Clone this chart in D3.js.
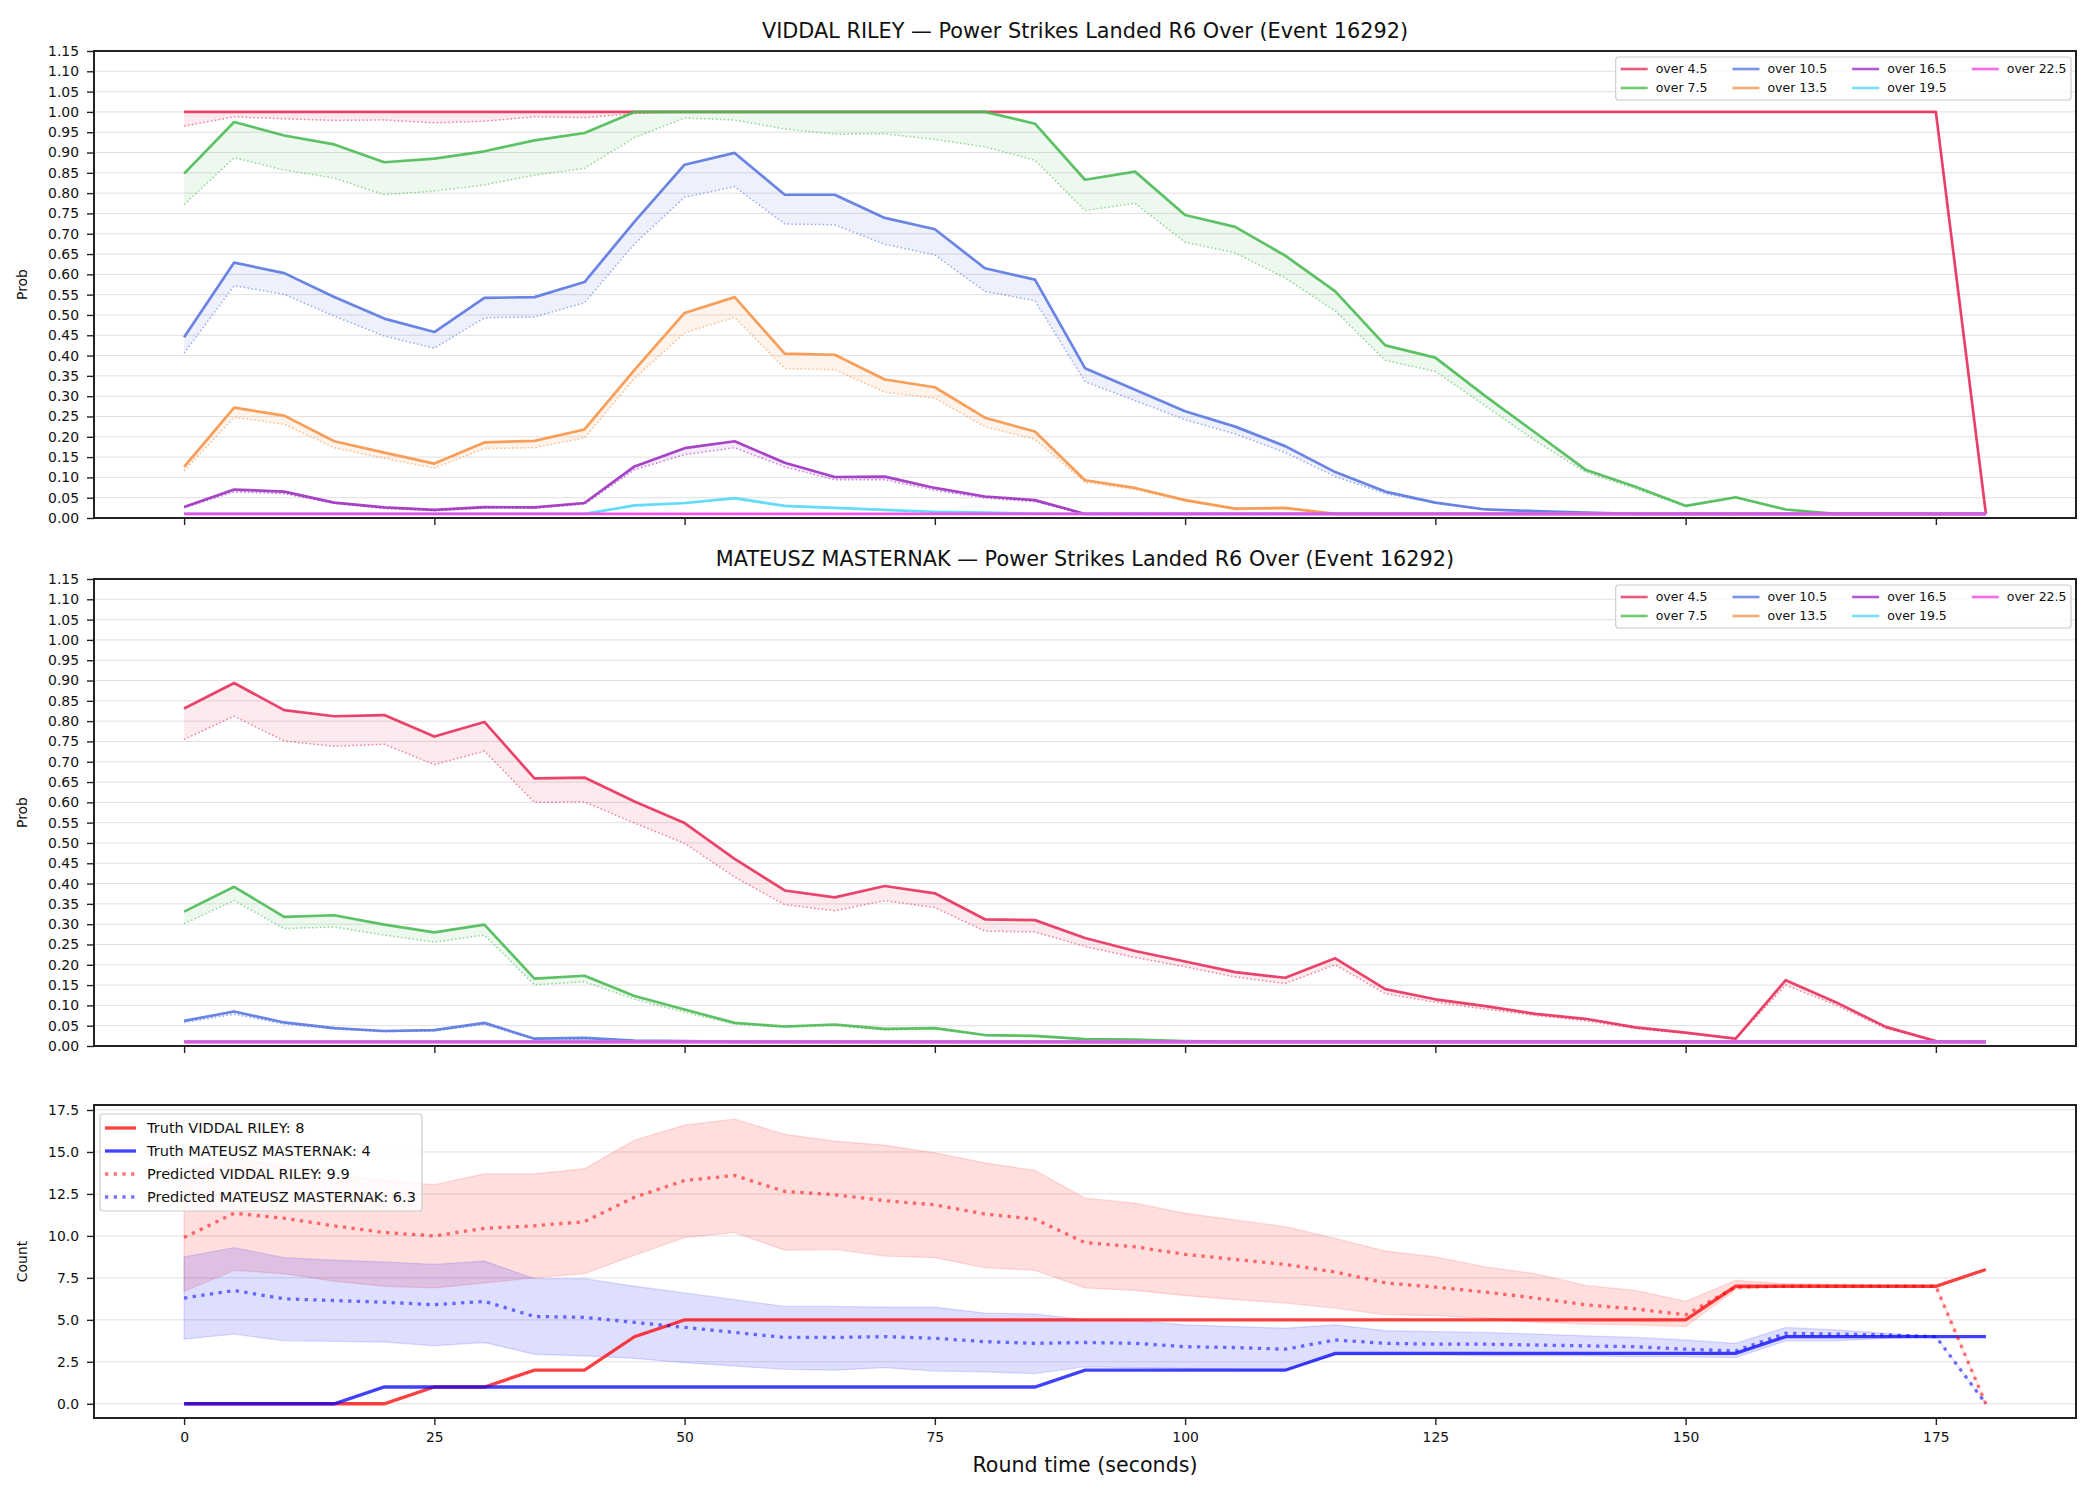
<!DOCTYPE html>
<html>
<head>
<meta charset="utf-8">
<title>Power Strikes Landed R6 Over</title>
<script src="https://cdn.jsdelivr.net/npm/d3@7"></script>
<style>
  body { margin: 0; background: #fff; }
  svg text { font-family: "DejaVu Sans", sans-serif; fill: #111; }
</style>
</head>
<body>
<svg id="chart" width="2100" height="1500"></svg>
<script>

// ---- data ----
var times = [0,5,10,15,20,25,30,35,40,45,50,55,60,65,70,75,80,85,90,95,100,105,110,115,120,125,130,135,140,145,150,155,160,165,170,175,180];

var thresholds = ["over 4.5","over 7.5","over 10.5","over 13.5","over 16.5","over 19.5","over 22.5"];

// VIDDAL RILEY: solid line and dotted line per threshold
var riley45   = [1,1,1,1,1,1,1,1,1,1,1,1,1,1,1,1,1,1,1,1,1,1,1,1,1,1,1,1,1,1,1,1,1,1,1,1,0.01];
var riley45d  = [0.965,0.988,0.983,0.979,0.98,0.973,0.977,0.988,0.986,0.996,1,1,1,1,1,1,1,1,1,1,1,1,1,1,1,1,1,1,1,1,1,1,1,1,1,1,0.01];
var riley75   = [0.848,0.975,0.942,0.92,0.876,0.885,0.903,0.93,0.948,1,1,1,1,1,1,1,1,0.971,0.833,0.853,0.746,0.717,0.646,0.558,0.425,0.395,0.3,0.21,0.119,0.077,0.03,0.051,0.021,0.01,0.01,0.01,0.01];
var riley75d  = [0.772,0.887,0.857,0.837,0.796,0.805,0.82,0.844,0.861,0.937,0.985,0.98,0.958,0.945,0.946,0.932,0.914,0.881,0.757,0.775,0.679,0.653,0.591,0.51,0.388,0.361,0.276,0.19,0.113,0.072,0.028,0.049,0.02,0.01,0.01,0.01,0.01];
var riley105  = [0.445,0.629,0.603,0.544,0.491,0.458,0.542,0.544,0.581,0.73,0.87,0.899,0.796,0.796,0.739,0.711,0.615,0.587,0.369,0.316,0.263,0.225,0.177,0.113,0.065,0.038,0.021,0.017,0.013,0.01,0.01,0.01,0.01,0.01,0.01,0.01,0.01];
var riley105d = [0.406,0.572,0.551,0.497,0.448,0.418,0.493,0.495,0.53,0.675,0.79,0.816,0.724,0.722,0.674,0.648,0.558,0.535,0.336,0.289,0.242,0.207,0.161,0.102,0.06,0.037,0.021,0.016,0.013,0.01,0.01,0.01,0.01,0.01,0.01,0.01,0.01];
var riley135  = [0.126,0.272,0.252,0.189,0.161,0.134,0.186,0.19,0.218,0.365,0.505,0.544,0.405,0.402,0.341,0.322,0.247,0.213,0.093,0.074,0.044,0.023,0.025,0.01,0.01,0.01,0.01,0.01,0.01,0.01,0.01,0.01,0.01,0.01,0.01,0.01,0.01];
var riley135d = [0.116,0.248,0.231,0.173,0.147,0.123,0.171,0.173,0.197,0.344,0.456,0.494,0.368,0.365,0.31,0.295,0.225,0.194,0.088,0.07,0.042,0.021,0.022,0.01,0.01,0.01,0.01,0.01,0.01,0.01,0.01,0.01,0.01,0.01,0.01,0.01,0.01];
var riley165  = [0.027,0.07,0.065,0.038,0.026,0.02,0.027,0.026,0.037,0.127,0.172,0.189,0.136,0.101,0.102,0.074,0.053,0.044,0.01,0.01,0.01,0.01,0.01,0.01,0.01,0.01,0.01,0.01,0.01,0.01,0.01,0.01,0.01,0.01,0.01,0.01,0.01];
var riley165d = [0.025,0.064,0.06,0.036,0.023,0.018,0.024,0.024,0.034,0.119,0.156,0.173,0.126,0.094,0.094,0.068,0.049,0.04,0.01,0.01,0.01,0.01,0.01,0.01,0.01,0.01,0.01,0.01,0.01,0.01,0.01,0.01,0.01,0.01,0.01,0.01,0.01];
var riley195  = [0.01,0.01,0.01,0.01,0.01,0.01,0.01,0.01,0.01,0.031,0.037,0.049,0.03,0.025,0.02,0.015,0.013,0.011,0.01,0.01,0.01,0.01,0.01,0.01,0.01,0.01,0.01,0.01,0.01,0.01,0.01,0.01,0.01,0.01,0.01,0.01,0.01];
var riley195d = [0.01,0.01,0.01,0.01,0.01,0.01,0.01,0.01,0.01,0.029,0.035,0.046,0.028,0.024,0.019,0.014,0.012,0.011,0.01,0.01,0.01,0.01,0.01,0.01,0.01,0.01,0.01,0.01,0.01,0.01,0.01,0.01,0.01,0.01,0.01,0.01,0.01];
var riley225  = [0.01,0.01,0.01,0.01,0.01,0.01,0.01,0.01,0.01,0.01,0.01,0.01,0.01,0.01,0.01,0.01,0.01,0.01,0.01,0.01,0.01,0.01,0.01,0.01,0.01,0.01,0.01,0.01,0.01,0.01,0.01,0.01,0.01,0.01,0.01,0.01,0.01];
var riley225d = [0.01,0.01,0.01,0.01,0.01,0.01,0.01,0.01,0.01,0.01,0.01,0.01,0.01,0.01,0.01,0.01,0.01,0.01,0.01,0.01,0.01,0.01,0.01,0.01,0.01,0.01,0.01,0.01,0.01,0.01,0.01,0.01,0.01,0.01,0.01,0.01,0.01];

// MATEUSZ MASTERNAK
var mat45   = [0.831,0.894,0.827,0.812,0.815,0.762,0.798,0.659,0.661,0.602,0.549,0.461,0.383,0.366,0.394,0.376,0.312,0.31,0.266,0.234,0.208,0.182,0.168,0.216,0.14,0.115,0.098,0.079,0.067,0.046,0.033,0.018,0.162,0.108,0.047,0.012,0.01];
var mat45d  = [0.755,0.812,0.751,0.738,0.743,0.693,0.726,0.6,0.601,0.549,0.499,0.416,0.348,0.333,0.358,0.341,0.283,0.281,0.245,0.218,0.195,0.17,0.154,0.2,0.129,0.108,0.091,0.075,0.062,0.043,0.031,0.017,0.15,0.101,0.043,0.012,0.01];
var mat75   = [0.331,0.392,0.318,0.322,0.299,0.28,0.299,0.166,0.173,0.123,0.09,0.057,0.048,0.053,0.042,0.044,0.027,0.025,0.017,0.016,0.012,0.01,0.01,0.01,0.01,0.01,0.01,0.01,0.01,0.01,0.01,0.01,0.01,0.01,0.01,0.01,0.01];
var mat75d  = [0.301,0.358,0.289,0.293,0.273,0.256,0.273,0.151,0.158,0.115,0.083,0.054,0.046,0.05,0.039,0.042,0.026,0.023,0.016,0.015,0.012,0.01,0.01,0.01,0.01,0.01,0.01,0.01,0.01,0.01,0.01,0.01,0.01,0.01,0.01,0.01,0.01];
var mat105  = [0.062,0.085,0.058,0.044,0.037,0.039,0.057,0.018,0.02,0.013,0.012,0.01,0.01,0.01,0.01,0.01,0.01,0.01,0.01,0.01,0.01,0.01,0.01,0.01,0.01,0.01,0.01,0.01,0.01,0.01,0.01,0.01,0.01,0.01,0.01,0.01,0.01];
var mat105d = [0.058,0.078,0.054,0.042,0.035,0.037,0.053,0.016,0.017,0.012,0.011,0.01,0.01,0.01,0.01,0.01,0.01,0.01,0.01,0.01,0.01,0.01,0.01,0.01,0.01,0.01,0.01,0.01,0.01,0.01,0.01,0.01,0.01,0.01,0.01,0.01,0.01];
var matFlat = [0.01,0.01,0.01,0.01,0.01,0.01,0.01,0.01,0.01,0.01,0.01,0.01,0.01,0.01,0.01,0.01,0.01,0.01,0.01,0.01,0.01,0.01,0.01,0.01,0.01,0.01,0.01,0.01,0.01,0.01,0.01,0.01,0.01,0.01,0.01,0.01,0.01];

// counts panel
var truthRiley = [0,0,0,0,0,1,1,2,2,4,5,5,5,5,5,5,5,5,5,5,5,5,5,5,5,5,5,5,5,5,5,7,7,7,7,7,8];
var truthMat   = [0,0,0,0,1,1,1,1,1,1,1,1,1,1,1,1,1,1,2,2,2,2,2,3,3,3,3,3,3,3,3,3,4,4,4,4,4];
var predRiley  = [9.9,11.35,11.05,10.6,10.2,10.0,10.45,10.6,10.85,12.3,13.3,13.6,12.65,12.45,12.1,11.85,11.3,11.0,9.6,9.35,8.9,8.6,8.3,7.85,7.2,6.95,6.65,6.3,5.9,5.65,5.3,6.95,7.0,7.0,7.0,7.0,0];
var rileyHi    = [13.9,14.6,14.2,13.7,13.3,13.05,13.7,13.7,14.0,15.7,16.6,16.95,16.05,15.65,15.4,14.95,14.35,13.9,12.25,11.95,11.35,10.95,10.55,9.85,9.1,8.75,8.15,7.75,7.05,6.75,6.1,7.35,7.15,7.1,7.05,7.0,0];
var rileyLo    = [6.7,7.95,7.75,7.3,7.0,6.9,7.2,7.5,7.75,8.85,9.9,10.2,9.15,9.2,8.8,8.7,8.1,7.95,6.9,6.75,6.45,6.2,6.0,5.7,5.3,5.25,5.1,4.85,4.75,4.7,4.6,6.8,7.0,7.0,7.0,7.0,0];
var predMat    = [6.3,6.75,6.25,6.15,6.05,5.9,6.1,5.2,5.15,4.85,4.55,4.25,3.95,3.95,4.0,3.9,3.7,3.6,3.65,3.6,3.4,3.35,3.25,3.8,3.6,3.55,3.55,3.5,3.45,3.4,3.25,3.15,4.2,4.15,4.1,4.0,0];
var matHi      = [8.75,9.3,8.7,8.55,8.45,8.3,8.5,7.45,7.45,7.0,6.6,6.2,5.8,5.8,5.75,5.75,5.4,5.35,5.0,4.95,4.7,4.6,4.5,4.7,4.35,4.3,4.25,4.15,4.05,3.95,3.8,3.6,4.55,4.4,4.2,4.0,0];
var matLo      = [3.85,4.15,3.75,3.72,3.68,3.45,3.65,2.95,2.85,2.7,2.45,2.25,2.05,2.0,2.15,1.95,1.9,1.8,2.2,2.15,2.1,2.05,2.0,2.9,2.9,2.9,2.85,2.85,2.85,2.8,2.8,2.75,3.75,3.75,3.9,4.0,0];

var countLabels = ["Truth VIDDAL RILEY: 8", "Truth MATEUSZ MASTERNAK: 4", "Predicted VIDDAL RILEY: 9.9", "Predicted MATEUSZ MASTERNAK: 6.3"];

var probTicks  = [0,0.05,0.1,0.15,0.2,0.25,0.3,0.35,0.4,0.45,0.5,0.55,0.6,0.65,0.7,0.75,0.8,0.85,0.9,0.95,1.0,1.05,1.1,1.15];
var countTicks = [0,2.5,5,7.5,10,12.5,15,17.5];
var timeTicks  = [0,25,50,75,100,125,150,175];

// ---- style ----
var lineColors = ["#e8305c","#4dba55","#5a78e0","#f79548","#9d30c0","#55d8f8","#f546e6"];
var fontTick = 13.9;

var svg = d3.select("#chart");
svg.append("rect").attr("width", 2100).attr("height", 1500).attr("fill", "#fff");

var left = 94, right = 2076;
var x = d3.scaleLinear().domain([-9, 189]).range([left, right]);

function styleAxis(g) {
	g.select(".domain").remove();
	g.selectAll("line").attr("stroke", "#222").attr("stroke-width", 1.4);
	g.selectAll("text").attr("font-size", fontTick).attr("font-family", "DejaVu Sans").attr("fill", "#111");
}

function frame(top, h) {
	svg.append("rect")
		.attr("x", left).attr("y", top)
		.attr("width", right - left).attr("height", h)
		.attr("fill", "none").attr("stroke", "#222").attr("stroke-width", 2);
}

function grid(y, ticks) {
	svg.append("g").selectAll("line").data(ticks).enter().append("line")
		.attr("x1", left).attr("x2", right)
		.attr("y1", function(d){ return y(d); }).attr("y2", function(d){ return y(d); })
		.attr("stroke", "#e0e0e0").attr("stroke-width", 1);
}

function xAxis(top, h, labels) {
	var ax = d3.axisBottom(x).tickValues(timeTicks).tickSize(7).tickPadding(7);
	if (!labels) ax.tickFormat("");
	svg.append("g").attr("transform", "translate(0," + (top + h) + ")").call(ax).call(styleAxis);
}

function yLabel(txt, top, h) {
	svg.append("text")
		.attr("transform", "translate(27," + (top + h / 2) + ") rotate(-90)")
		.attr("text-anchor", "middle").attr("font-size", fontTick)
		.text(txt);
}

function probPanel(top, h, title, solids, dots) {
	var y = d3.scaleLinear().domain([0, 1.15]).range([top + h, top]);
	grid(y, probTicks);

	var line = d3.line().x(function(d, i){ return x(times[i]); }).y(function(d){ return y(d); });
	var g = svg.append("g");
	solids.forEach(function(s, k) {
		var d2 = dots[k];
		var area = d3.area()
			.x(function(d, i){ return x(times[i]); })
			.y0(function(d, i){ return y(d2[i]); })
			.y1(function(d){ return y(d); });
		g.append("path").attr("d", area(s)).attr("fill", lineColors[k]).attr("fill-opacity", 0.1);
		g.append("path").attr("d", line(s)).attr("fill", "none")
			.attr("stroke", lineColors[k]).attr("stroke-width", 2.7).attr("stroke-opacity", 0.9)
			.attr("stroke-linejoin", "round");
		g.append("path").attr("d", line(d2)).attr("fill", "none")
			.attr("stroke", lineColors[k]).attr("stroke-width", 1.5).attr("stroke-opacity", 0.6)
			.attr("stroke-dasharray", "1.5,2.4");
	});

	svg.append("g").attr("transform", "translate(" + left + ",0)")
		.call(d3.axisLeft(y).tickValues(probTicks).tickFormat(d3.format(".2f")).tickSize(7).tickPadding(8))
		.call(styleAxis);
	xAxis(top, h, false);
	frame(top, h);
	yLabel("Prob", top, h);

	svg.append("text")
		.attr("x", (left + right) / 2).attr("y", top - 13)
		.attr("text-anchor", "middle").attr("font-size", 20.8)
		.text(title);

	// legend: 4 columns, 2 rows, column-major
	var fs = 12.5, handle = 27, gapT = 8, colSp = 25;
	var lg = svg.append("g");
	var box = lg.append("rect");
	var colX = 0, widths = [];
	var items = lg.selectAll("g.item").data(thresholds).enter().append("g").attr("class", "item");
	items.append("text").attr("font-size", fs).attr("dy", "0.35em").text(function(d){ return d; });
	items.each(function(d, i) { widths[i] = this.querySelector("text").getComputedTextLength(); });
	var colStart = [], ncol = Math.ceil(thresholds.length / 2);
	for (var c = 0; c < ncol; c++) {
		colStart.push(colX);
		var w = Math.max(widths[2 * c] || 0, widths[2 * c + 1] || 0);
		colX += handle + gapT + w + (c < ncol - 1 ? colSp : 0);
	}
	var boxW = colX + 5 + 4.5;
	var bx = right - 5 - boxW, by = top + 6;
	box.attr("x", bx).attr("y", by).attr("width", boxW).attr("height", 43)
		.attr("rx", 3).attr("fill", "#fff").attr("fill-opacity", 0.8)
		.attr("stroke", "#ccc").attr("stroke-width", 1.2);
	items.attr("transform", function(d, i) {
		var c = Math.floor(i / 2), r = i % 2;
		return "translate(" + (bx + 5 + colStart[c]) + "," + (by + 12 + r * 19) + ")";
	});
	items.insert("line", "text").attr("x1", 0).attr("x2", handle)
		.attr("stroke", function(d, i){ return lineColors[i]; })
		.attr("stroke-width", 2.6).attr("stroke-opacity", 0.8);
	items.select("text").attr("x", handle + gapT);
}

var panelTops = [51, 579, 1105];
var probH = 467, countH = 313;

probPanel(panelTops[0], probH, "VIDDAL RILEY \u2014 Power Strikes Landed R6 Over (Event 16292)",
	[riley45, riley75, riley105, riley135, riley165, riley195, riley225],
	[riley45d, riley75d, riley105d, riley135d, riley165d, riley195d, riley225d]);

probPanel(panelTops[1], probH, "MATEUSZ MASTERNAK \u2014 Power Strikes Landed R6 Over (Event 16292)",
	[mat45, mat75, mat105, matFlat, matFlat, matFlat, matFlat],
	[mat45d, mat75d, mat105d, matFlat, matFlat, matFlat, matFlat]);

// ---- counts panel ----
(function() {
	var top = panelTops[2], h = countH;
	var lo = 0, hi = d3.max(rileyHi.concat(matHi, predRiley, truthRiley));
	var pad = (hi - lo) * 0.05;
	var y = d3.scaleLinear().domain([lo - pad, hi + pad]).range([top + h, top]);
	grid(y, countTicks);

	var line = d3.line().x(function(d, i){ return x(times[i]); }).y(function(d){ return y(d); });
	function band(hiArr, loArr, col) {
		var area = d3.area()
			.x(function(d, i){ return x(times[i]); })
			.y0(function(d, i){ return y(loArr[i]); })
			.y1(function(d){ return y(d); });
		svg.append("path").attr("d", area(hiArr))
			.attr("fill", col).attr("fill-opacity", 0.13)
			.attr("stroke", col).attr("stroke-opacity", 0.13).attr("stroke-width", 1.3);
	}
	band(rileyHi, rileyLo, "#ff0000");
	band(matHi, matLo, "#0000ff");

	var specs = [
		{ data: truthRiley, col: "#ff0000", op: 0.75, dash: null },
		{ data: truthMat, col: "#0000ff", op: 0.75, dash: null },
		{ data: predRiley, col: "#ff0000", op: 0.55, dash: "3.3,5.4" },
		{ data: predMat, col: "#0000ff", op: 0.55, dash: "3.3,5.4" }
	];
	specs.forEach(function(s) {
		svg.append("path").attr("d", line(s.data)).attr("fill", "none")
			.attr("stroke", s.col).attr("stroke-opacity", s.op).attr("stroke-width", 3.3)
			.attr("stroke-dasharray", s.dash);
	});

	svg.append("g").attr("transform", "translate(" + left + ",0)")
		.call(d3.axisLeft(y).tickValues(countTicks).tickFormat(d3.format(".1f")).tickSize(7).tickPadding(8))
		.call(styleAxis);
	xAxis(top, h, true);
	frame(top, h);
	yLabel("Count", top, h);

	svg.append("text")
		.attr("x", (left + right) / 2).attr("y", top + h + 54)
		.attr("text-anchor", "middle").attr("font-size", 20.6)
		.text("Round time (seconds)");

	// legend upper left
	var fs = 14.5, bx = left + 6, by = top + 9;
	var lg = svg.append("g");
	var box = lg.append("rect");
	var maxW = 0;
	specs.forEach(function(s, i) {
		var cy = by + 14 + i * 23;
		lg.append("line").attr("x1", bx + 5).attr("x2", bx + 36).attr("y1", cy).attr("y2", cy)
			.attr("stroke", s.col).attr("stroke-opacity", s.op).attr("stroke-width", 3.3)
			.attr("stroke-dasharray", s.dash);
		var t = lg.append("text").attr("x", bx + 47).attr("y", cy).attr("dy", "0.35em")
			.attr("font-size", fs).text(countLabels[i]);
		maxW = Math.max(maxW, t.node().getComputedTextLength());
	});
	box.attr("x", bx).attr("y", by).attr("width", 47 + maxW + 6).attr("height", 97)
		.attr("rx", 3).attr("fill", "#fff").attr("fill-opacity", 0.8)
		.attr("stroke", "#ccc").attr("stroke-width", 1.2);
})();

</script>
</body>
</html>
